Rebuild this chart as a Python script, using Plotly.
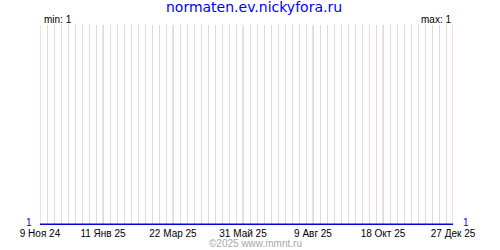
import plotly.graph_objects as go

# ---- data ----
dates = ["2024-11-09", "2025-12-27"]
values = [1, 1]
tick_dates = ["2024-11-09", "2025-01-11", "2025-03-22", "2025-05-31",
              "2025-08-09", "2025-10-18", "2025-12-27"]
tick_labels = ["9 Ноя 24", "11 Янв 25", "22 Мар 25", "31 Май 25",
               "9 Авг 25", "18 Окт 25", "27 Дек 25"]
title_text = "normaten.ev.nickyfora.ru"
footer_text = "©2025 www.mmnt.ru"

W, H = 500, 250
L, R, T, B = 40, 47, 25, 25
PW = W - L - R
PH = H - T - B

font_small = "Liberation Sans"
blue = "#0000ff"
pink = "#ffb8b8"

fig = go.Figure()
fig.add_trace(go.Scatter(
    x=dates, y=values, mode="lines",
    line=dict(color="#0000dd", width=1.6),
    hoverinfo="skip", showlegend=False,
))

vmin, vmax = min(values), max(values)

annotations = [
    dict(text=f"min: {vmin}", xref="paper", yref="paper",
         x=(42 - L) / PW, y=1 + (T - 19.5) / PH, xanchor="left", yanchor="middle",
         showarrow=False, font=dict(family=font_small, size=10, color="black")),
    dict(text=f"max: {vmax}", xref="paper", yref="paper",
         x=(452.5 - L) / PW, y=1 + (T - 19.5) / PH, xanchor="right", yanchor="middle",
         showarrow=False, font=dict(family=font_small, size=10, color="black")),
    dict(text=str(values[0]), xref="x", yref="y", x=dates[0], y=values[0],
         xanchor="right", yanchor="middle", xshift=-6, yshift=1.5, showarrow=False,
         font=dict(family=font_small, size=10, color=blue)),
    dict(text=str(values[-1]), xref="x", yref="y", x=dates[-1], y=values[-1],
         xanchor="left", yanchor="middle", xshift=8, yshift=1.5, showarrow=False,
         font=dict(family=font_small, size=10, color=blue)),
    dict(text=footer_text, xref="paper", yref="paper",
         x=(255.5 - L) / PW, y=-(243 - (T + PH)) / PH, xanchor="center", yanchor="middle",
         showarrow=False, font=dict(family=font_small, size=10, color="#a8a8a8")),
]

# pink vertical lines at each labelled date (derived from tick_dates)
shapes = [
    dict(type="line", xref="x", yref="paper", x0=d, x1=d, y0=0, y1=1,
         line=dict(color=pink, width=1), layer="between")
    for d in tick_dates
]

fig.update_layout(
    width=W, height=H,
    margin=dict(l=L, r=R, t=T, b=B, pad=0),
    paper_bgcolor="white", plot_bgcolor="white",
    title=dict(text=title_text, x=254 / W, y=1 - 7.5 / H, xanchor="center",
               yanchor="middle", xref="container", yref="container",
               font=dict(family="DejaVu Sans", size=14, color=blue)),
    annotations=annotations,
    shapes=shapes,
    xaxis=dict(
        type="date", range=[dates[0], dates[-1]],
        tickmode="array", tickvals=tick_dates, ticktext=tick_labels,
        showgrid=False,
        minor=dict(dtick=7 * 86400000, tick0=dates[0], showgrid=True,
                   gridcolor="#dcdcdc", gridwidth=1, ticks=""),
        showline=False, zeroline=False, ticks="", ticklabelstandoff=1,
        tickfont=dict(family=font_small, size=10, color="black"),
        fixedrange=True,
    ),
    yaxis=dict(
        range=[vmin - 0.004, vmin + 1], showgrid=False, zeroline=False,
        showticklabels=False, showline=False, ticks="", fixedrange=True,
    ),
)

fig.write_html("out.html")
